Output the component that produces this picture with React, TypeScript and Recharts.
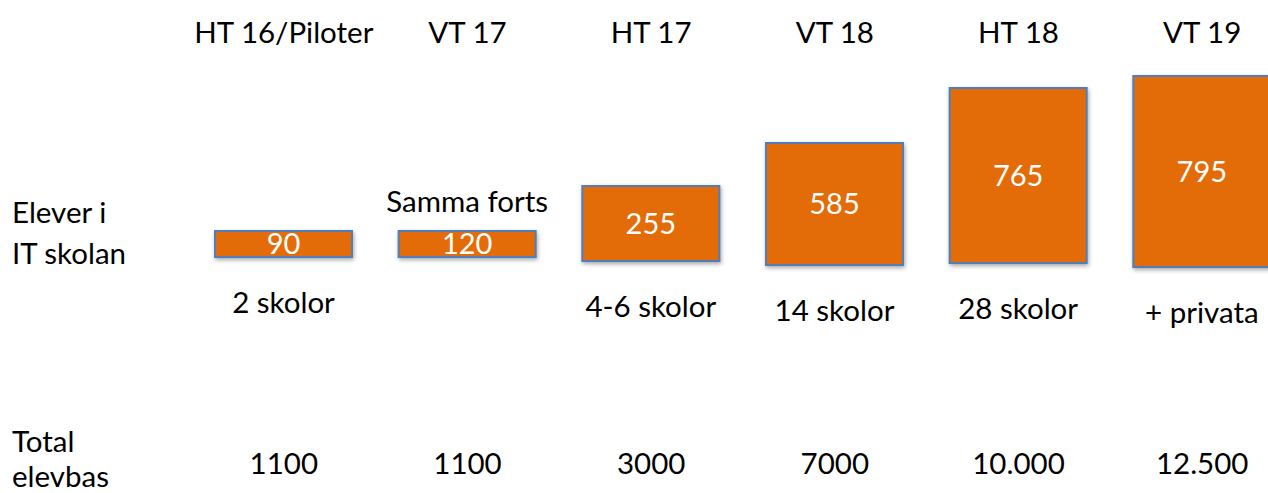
import React from 'react';
import { BarChart, Bar, XAxis, YAxis, LabelList } from 'recharts';

const periods = ['HT 16/Piloter', 'VT 17', 'HT 17', 'VT 18', 'HT 18', 'VT 19'];
const students = [90, 120, 255, 585, 765, 795];
const boxBottom = [217, 217, 213, 209, 211, 207];
const boxTop = [243, 243, 288, 331, 386, 398];
const schoolNotes = ['2 skolor', 'Samma forts', '4-6 skolor', '14 skolor', '28 skolor', '+ privata'];
const notePlacement = ['below', 'above', 'below', 'below', 'below', 'below'];
const totalBase = ['1100', '1100', '3000', '7000', '10.000', '12.500'];
const rowLabelsTop = ['Elever i', 'IT skolan'];
const rowLabelsBottom = ['Total', 'elevbas'];

const data = periods.map((p, i) => ({
  period: p,
  total: totalBase[i],
  students: students[i],
  note: schoolNotes[i],
  box: [boxBottom[i], boxTop[i]],
}));

const FONT = 'Lato, "Open Sans", sans-serif';
const TEXT_SIZE = 29.5;

const HeaderTick = (props: any) => {
  const { x, y, payload } = props;
  return (
    <text x={x} y={y} textAnchor="middle" fontFamily={FONT} fontSize={TEXT_SIZE} fill="#000">
      {payload.value}
    </text>
  );
};

const BoxShape = (props: any) => {
  const { x, y, width, height } = props;
  const top = Math.min(y, y + height);
  const h = Math.abs(height);
  return (
    <rect
      x={x}
      y={top}
      width={width}
      height={h}
      fill="#E36C09"
      stroke="#4F7EBA"
      strokeWidth={2}
      style={{ filter: 'drop-shadow(1px 2px 2px rgba(0,0,0,0.35))' }}
    />
  );
};

const NoteLabel = (props: any) => {
  const vb = props.viewBox || props;
  const { x, y, width, height } = vb;
  const { index, value } = props;
  const top = Math.min(y, y + height);
  const bottom = Math.max(y, y + height);
  const above = notePlacement[index] === 'above';
  return (
    <text
      x={x + width / 2}
      y={above ? top - 19 : bottom + 56}
      textAnchor="middle"
      fontFamily={FONT}
      fontSize={TEXT_SIZE}
      fill="#000"
    >
      {value}
    </text>
  );
};

export default function App() {
  return (
    <div style={{ position: 'absolute', left: 0, top: 0, width: 1268, height: 493, overflow: 'hidden', background: '#fff' }}>
      <BarChart
        width={1300}
        height={493}
        data={data}
        margin={{ top: 0, right: 6, bottom: 0, left: 192 }}
        barCategoryGap={0}
      >
        <XAxis
          xAxisId="top"
          dataKey="period"
          orientation="top"
          height={43}
          tickSize={0}
          tickMargin={0}
          axisLine={false}
          tickLine={false}
          interval={0}
          tick={<HeaderTick />}
        />
        <XAxis
          xAxisId="bottom"
          dataKey="total"
          orientation="bottom"
          height={19}
          tickSize={0}
          tickMargin={0}
          axisLine={false}
          tickLine={false}
          interval={0}
          tick={<HeaderTick />}
        />
        <YAxis hide type="number" domain={[0, 431]} />
        <Bar xAxisId="top" dataKey="box" barSize={137} isAnimationActive={false} shape={<BoxShape />}>
          <LabelList dataKey="students" position="center" fill="#fff" fontSize={29} fontFamily={FONT} />
          <LabelList dataKey="note" content={<NoteLabel />} />
        </Bar>
      </BarChart>
      <svg width={200} height={493} style={{ position: 'absolute', left: 0, top: 0 }}>
        <text x={12} y={223} fontFamily={FONT} fontSize={TEXT_SIZE} fill="#000">{rowLabelsTop[0]}</text>
        <text x={12} y={264} fontFamily={FONT} fontSize={TEXT_SIZE} fill="#000">{rowLabelsTop[1]}</text>
        <text x={12} y={452} fontFamily={FONT} fontSize={TEXT_SIZE} fill="#000">{rowLabelsBottom[0]}</text>
        <text x={12} y={487} fontFamily={FONT} fontSize={TEXT_SIZE} fill="#000">{rowLabelsBottom[1]}</text>
      </svg>
    </div>
  );
}
